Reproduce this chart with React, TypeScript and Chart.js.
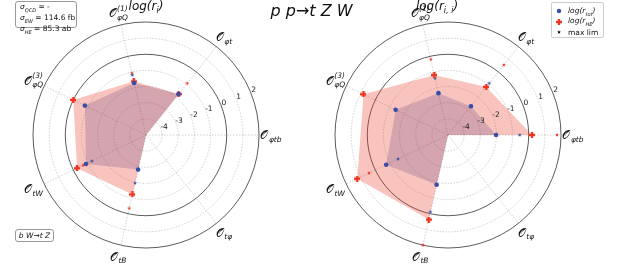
import React, { useEffect, useRef } from "react";
import { Chart, registerables } from "chart.js";

Chart.register(...registerables);

// axes listed clockwise starting from the right-hand axis
const axisNames = ["O_φtb", "O_tφ", "O_tB", "O_tW", "O^(3)_φQ", "O^(1)_φQ", "O_φt"];
const axisSub = ["φtb", "tφ", "tB", "tW", "φQ", "φQ", "φt"];
const axisSup = ["", "", "", "", "(3)", "(1)", ""];
const radialTicks = [-4, -3, -2, -1, 0, 1, 2];
const R_MIN = -5;
const R_MAX = 2;

// left panel: log(r_i)
const leftTot = [null, null, -2.8, -0.87, -0.8, -1.7, -1.76];
const leftHE = [null, null, -1.22, -0.26, 0.0, -1.59, -1.76];
const leftTotLim = [null, null, -1.94, -1.27, null, -1.19, null];
const leftHELim = [null, null, -0.34, -0.67, null, -1.08, -0.9];

// right panel: log(r_{i,i})
const rightTot = [-2.02, null, -1.84, -0.75, -1.4, -2.34, -2.72];
const rightHE = [0.2, null, 0.37, 1.24, 0.81, -1.18, -1.19];
const rightTotLim = [-0.56, null, -0.12, -1.56, null, -1.4, -0.9];
const rightHELim = [1.75, null, 2.0, 0.44, null, -0.2, 0.55];

const FONT = '"DejaVu Sans", "Noto Sans", sans-serif';
const SCRIPT_O = "\u{1D4AA}";
const RED = "rgb(238,52,32)";
const BLUE = "rgb(55,78,168)";
const RED_FILL = "rgba(240,60,40,0.3)";
const TOT_FILL = "rgba(60,40,110,0.2)";

function plusImg(color: string, s: number, t: number) {
  const c = document.createElement("canvas");
  c.width = s;
  c.height = s;
  const g = c.getContext("2d")!;
  g.fillStyle = color;
  g.fillRect(0, (s - t) / 2, s, t);
  g.fillRect((s - t) / 2, 0, t, s);
  return c;
}

function starImg(color: string, s: number) {
  const c = document.createElement("canvas");
  c.width = s;
  c.height = s;
  const g = c.getContext("2d")!;
  g.fillStyle = color;
  g.beginPath();
  const cx = s / 2, cy = s / 2, ro = s / 2, ri = s / 4.5;
  for (let k = 0; k < 10; k++) {
    const a = -Math.PI / 2 + (k * Math.PI) / 5;
    const r = k % 2 === 0 ? ro : ri;
    const px = cx + r * Math.cos(a), py = cy + r * Math.sin(a);
    if (k === 0) g.moveTo(px, py);
    else g.lineTo(px, py);
  }
  g.closePath();
  g.fill();
  return c;
}

function drawAxisLabel(ctx: CanvasRenderingContext2D, x: number, y: number, sub: string, sup: string) {
  const bigFont = `12px ${FONT}`;
  const smallFont = `italic 7.5px ${FONT}`;
  ctx.font = bigFont;
  const wO = ctx.measureText(SCRIPT_O).width;
  ctx.font = smallFont;
  const wSub = ctx.measureText(sub).width;
  const wSup = sup ? ctx.measureText(sup).width : 0;
  const total = wO + 0.5 + Math.max(wSub, wSup);
  const x0 = x - total / 2;
  ctx.textAlign = "left";
  ctx.textBaseline = "alphabetic";
  ctx.fillStyle = "#111";
  ctx.font = bigFont;
  ctx.fillText(SCRIPT_O, x0, y + 4);
  ctx.font = smallFont;
  ctx.fillText(sub, x0 + wO + 0.5, y + 6.5);
  if (sup) ctx.fillText(sup, x0 + wO + 0.5, y - 2.5);
}

const labelPlugin = {
  id: "polarLabels",
  afterDraw(chart: any) {
    const scale = chart.scales.r;
    const ctx: CanvasRenderingContext2D = chart.ctx;
    ctx.save();
    ctx.font = `7.5px ${FONT}`;
    ctx.fillStyle = "#222";
    ctx.textAlign = "center";
    ctx.textBaseline = "middle";
    const ang = (22.5 * Math.PI) / 180;
    for (const v of radialTicks) {
      const d = scale.getDistanceFromCenterForValue(v) + 3.5;
      ctx.fillText(String(v), scale.xCenter + d * Math.cos(ang), scale.yCenter - d * Math.sin(ang));
    }
    for (let i = 0; i < axisNames.length; i++) {
      const p = scale.getPointPosition(i, scale.drawingArea + 12);
      drawAxisLabel(ctx, p.x, p.y, axisSub[i], axisSup[i]);
    }
    ctx.restore();
  },
};

const fillTo = (arr: (number | null)[]) => arr.map((v) => (v === null ? R_MIN : v));
const isRing = (c: any) => c.tick && (c.tick.value === 0 || c.tick.value === R_MAX);

function makeConfig(tot: any[], he: any[], totLim: any[], heLim: any[], padLeft: number, imgs: any) {
  return {
    type: "radar" as const,
    data: {
      labels: axisNames,
      datasets: [
        { label: "tot", data: tot, showLine: false, pointStyle: "circle", pointRadius: 2.3, pointBackgroundColor: BLUE, pointBorderWidth: 0, clip: false, fill: false },
        { label: "HE", data: he, showLine: false, pointStyle: imgs.plusRed, pointRadius: 3, clip: false, fill: false },
        { label: "tot lim", data: totLim, showLine: false, pointStyle: imgs.starBlue, pointRadius: 2, clip: false, fill: false },
        { label: "HE lim", data: heLim, showLine: false, pointStyle: imgs.starRed, pointRadius: 2, clip: false, fill: false },
        { label: "tot area", data: fillTo(tot), borderWidth: 0, pointRadius: 0, backgroundColor: TOT_FILL, fill: "start", clip: false },
        { label: "HE area", data: fillTo(he), borderWidth: 0, pointRadius: 0, backgroundColor: RED_FILL, fill: "start", clip: false },
      ],
    },
    options: {
      animation: false,
      responsive: false,
      devicePixelRatio: 1,
      events: [],
      layout: { padding: { left: padLeft, right: 623 - padLeft - 226, top: 22, bottom: 265 - 22 - 226 } },
      plugins: { legend: { display: false }, tooltip: { enabled: false } },
      elements: { line: { tension: 0 } },
      scales: {
        r: {
          min: R_MIN,
          max: R_MAX,
          startAngle: 90,
          ticks: { display: false, stepSize: 1 },
          pointLabels: { display: false },
          grid: {
            circular: true,
            color: (c: any) => (isRing(c) ? "#4a4a4a" : "#c4c4c4"),
            lineWidth: (c: any) => (isRing(c) ? 0.9 : 0.8),
          },
          border: { dash: (c: any) => (isRing(c) ? [] : [1.5, 1.5]) },
          angleLines: { color: "#c4c4c4", lineWidth: 0.8, borderDash: [1.5, 1.5] },
        },
      },
    },
    plugins: [labelPlugin],
  };
}

function PolarPanel({ tot, he, totLim, heLim, padLeft }: any) {
  const ref = useRef<HTMLCanvasElement>(null);
  useEffect(() => {
    const imgs = {
      plusRed: plusImg(RED, 6, 2.4),
      starBlue: starImg(BLUE, 4),
      starRed: starImg(RED, 4),
    };
    const chart = new Chart(ref.current!, makeConfig(tot, he, totLim, heLim, padLeft, imgs) as any);
    return () => chart.destroy();
  }, []);
  return <canvas ref={ref} width={623} height={265} style={{ position: "absolute", left: 0, top: 0 }} />;
}

const mathStyle: React.CSSProperties = { fontStyle: "italic" };

export default function App() {
  return (
    <div style={{ position: "absolute", left: 0, top: 0, width: 623, height: 265, background: "#fff", overflow: "hidden", fontFamily: FONT, color: "#111" }}>
      <PolarPanel tot={leftTot} he={leftHE} totLim={leftTotLim} heLim={leftHELim} padLeft={33} />
      <PolarPanel tot={rightTot} he={rightHE} totLim={rightTotLim} heLim={rightHELim} padLeft={335} />

      <div style={{ position: "absolute", left: 0, width: 623, top: 1, textAlign: "center", fontSize: 16, lineHeight: "20px", ...mathStyle }}>
        p p→t Z W
      </div>

      <div style={{ position: "absolute", left: 96, width: 100, top: -2, textAlign: "center", fontSize: 12, lineHeight: "16px", ...mathStyle }}>
        log(r<sub style={{ fontSize: 8 }}>i</sub>)
      </div>
      <div style={{ position: "absolute", left: 387, width: 100, top: -2, textAlign: "center", fontSize: 12, lineHeight: "16px", ...mathStyle }}>
        log(r<sub style={{ fontSize: 8 }}>i, i</sub>)
      </div>

      <div style={{ position: "absolute", left: 15, top: 1, width: 62, height: 27, border: "1px solid #999", borderRadius: 3, fontSize: 7.5, lineHeight: "8.6px", padding: "1px 0 0 4px", boxSizing: "border-box", whiteSpace: "nowrap" }}>
        <div><i>σ</i><sub style={{ fontSize: 5 }}><i>QCD</i></sub> = -</div>
        <div><i>σ</i><sub style={{ fontSize: 5 }}><i>EW</i></sub> = 114.6 fb</div>
        <div><i>σ</i><sub style={{ fontSize: 5 }}><i>HE</i></sub> = 85.3 ab</div>
      </div>

      <div style={{ position: "absolute", left: 15, top: 229, width: 39, height: 13, border: "1px solid #999", borderRadius: 3, fontSize: 7.5, lineHeight: "11px", textAlign: "center", boxSizing: "border-box", whiteSpace: "nowrap", ...mathStyle }}>
        b W→t Z
      </div>

      <div style={{ position: "absolute", left: 551, top: 2, width: 53, height: 36, border: "1px solid #ccc", borderRadius: 2, fontSize: 7.5, boxSizing: "border-box", whiteSpace: "nowrap" }}>
        {[
          { kind: "dot", color: BLUE, text: "tot" },
          { kind: "plus", color: RED, text: "HE" },
          { kind: "star", color: "#111", text: "" },
        ].map((row, i) => (
          <div key={i} style={{ position: "absolute", left: 3, top: 3 + i * 10.5, height: 10, display: "flex", alignItems: "center" }}>
            <svg width={8} height={8} style={{ marginRight: 5 }}>
              {row.kind === "dot" && <circle cx={4} cy={4} r={2.2} fill={row.color} />}
              {row.kind === "plus" && (
                <g fill={row.color}>
                  <rect x={1} y={2.8} width={6} height={2.4} />
                  <rect x={2.8} y={1} width={2.4} height={6} />
                </g>
              )}
              {row.kind === "star" && <polygon points="4,2 4.6,3.4 6,3.4 4.9,4.3 5.3,5.8 4,4.9 2.7,5.8 3.1,4.3 2,3.4 3.4,3.4" fill={row.color} />}
            </svg>
            {row.text ? (
              <span style={mathStyle}>log(r<sub style={{ fontSize: 5 }}>{row.text}</sub>)</span>
            ) : (
              <span>max lim</span>
            )}
          </div>
        ))}
      </div>
    </div>
  );
}
